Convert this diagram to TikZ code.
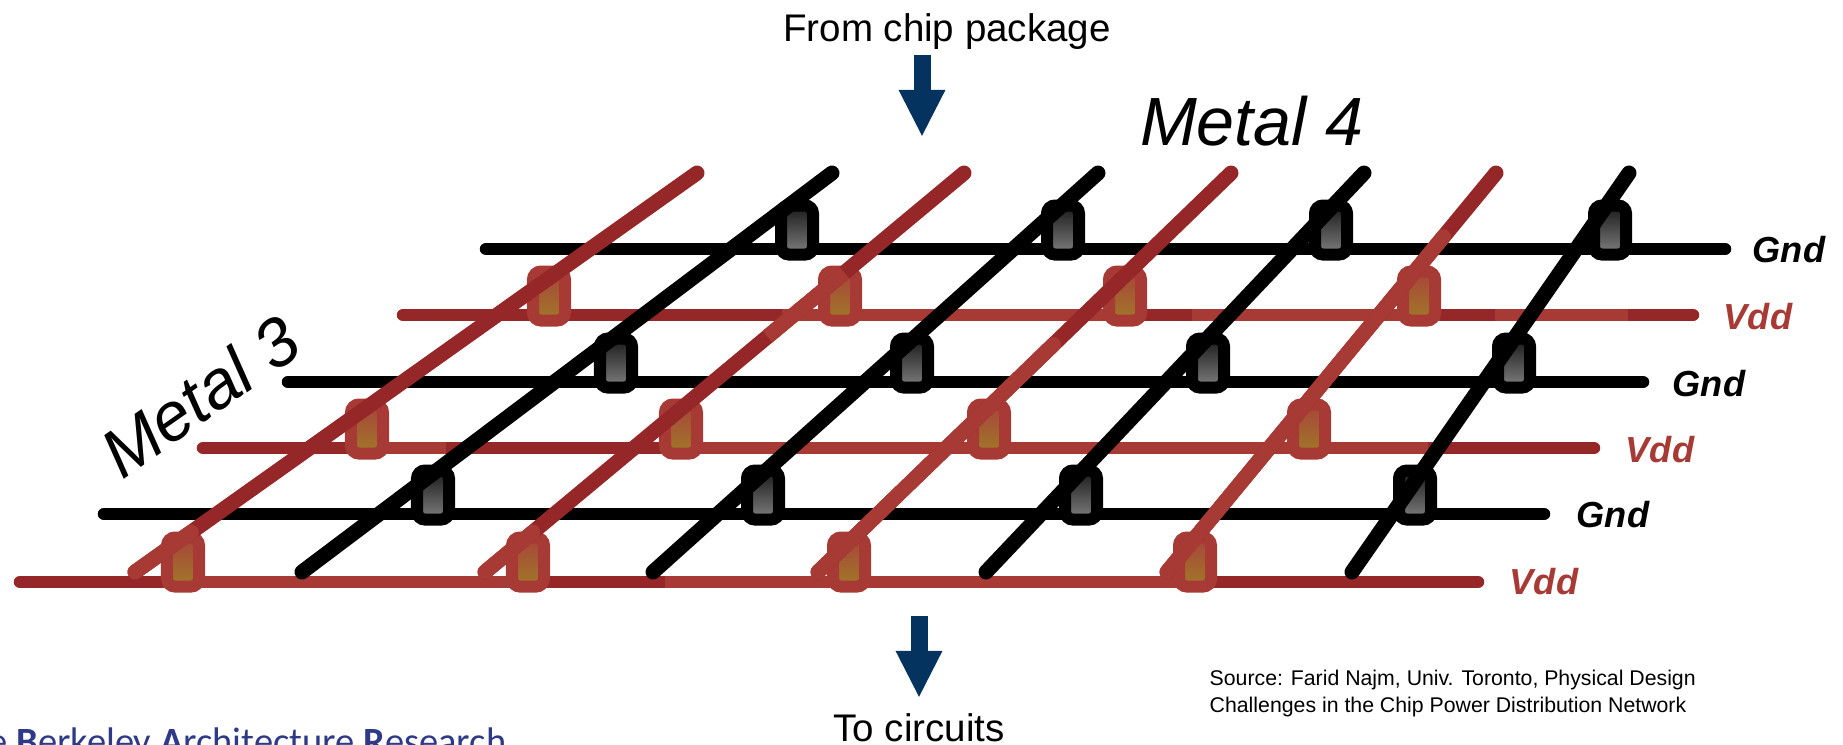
\documentclass[tikz,border=0pt]{standalone}
\usepackage{fontspec}
\usepackage{tikz}
\usetikzlibrary{calc,arrows.meta}
\setmainfont{Liberation Sans}
\newfontfamily\logofont{Carlito}
\definecolor{vdddark}{HTML}{962728}
\definecolor{vddlite}{HTML}{A83A35}
\definecolor{viatop}{HTML}{A8443A}
\definecolor{viabot}{HTML}{A07A28}
\definecolor{arrowblue}{HTML}{04335F}
\definecolor{logoblue}{HTML}{2E3A87}

\begin{document}
\begin{tikzpicture}[x=0.01cm,y=-0.01cm,
    wire/.style={line width=0.125cm,line cap=round},
    gndwire/.style={wire,color=black},
    vddwire/.style={wire,color=vdddark},
    vddpatch/.style={line width=0.125cm,color=vddlite},
    gnddiag/.style={line width=0.15cm,line cap=round,color=black},
    vdddiag/.style={line width=0.15cm,line cap=round,color=vdddark},
    vddpatchd/.style={line width=0.15cm,color=vddlite},
    via/.style={rectangle,inner sep=0pt,minimum width=0.32cm,minimum height=0.49cm,
        rounded corners=0.08cm,line width=0.12cm},
    gndvia/.style={via,draw=black,top color=black!90,bottom color=black!50},
    vddvia/.style={via,draw=vddlite,top color=viatop,bottom color=viabot},
    netgnd/.style={font=\fontsize{10.3}{12}\selectfont\bfseries\itshape,color=black},
    netvdd/.style={font=\fontsize{10.3}{12}\selectfont\bfseries\itshape,color=vddlite},
    metal/.style={font=\fontsize{19.4}{23}\selectfont\itshape},
    flow/.style={font=\fontsize{10.95}{13}\selectfont},
    flowarrow/.style={-{Triangle[length=0.47cm,width=0.43cm]},line width=0.17cm,color=arrowblue}]
    \useasboundingbox (0,0) rectangle (1843,744);

    % metal 3 straps
    \coordinate (g1w) at (486,249);  \coordinate (g1e) at (1725,249);
    \coordinate (v1w) at (403,315);  \coordinate (v1e) at (1693,315);
    \coordinate (g2w) at (288,382);  \coordinate (g2e) at (1643,382);
    \coordinate (v2w) at (203,448);  \coordinate (v2e) at (1594,448);
    \coordinate (g3w) at (104,514);  \coordinate (g3e) at (1544,514);
    \coordinate (v3w) at (20,582);   \coordinate (v3e) at (1478,582);

    \draw[gndwire] (g1w) -- (g1e);
    \draw[gndwire] (g2w) -- (g2e);
    \draw[gndwire] (g3w) -- (g3e);
    \draw[vddwire] (v1w) -- (v1e);
    \draw[vddwire] (v2w) -- (v2e);
    \draw[vddwire] (v3w) -- (v3e);

    % lighter stretches
    \foreach \xa/\xb in {782/1145,1192/1440,1495/1628}
    \draw[vddpatch] (\xa,315) -- (\xb,315);
    \foreach \xa/\xb in {387/446,664/1428}
    \draw[vddpatch] (\xa,448) -- (\xb,448);
    \foreach \xa/\xb in {163/528,665/1195}
    \draw[vddpatch] (\xa,582) -- (\xb,582);

    % vias
    \node[gndvia] (g1a) at (797,230) {};
    \node[gndvia] (g1b) at (1063,230) {};
    \node[gndvia] (g1c) at (1331,230) {};
    \node[gndvia] (g1d) at (1610,230) {};
    \node[vddvia] (v1a) at (549,296) {};
    \node[vddvia] (v1b) at (840,296) {};
    \node[vddvia] (v1c) at (1125,296) {};
    \node[vddvia] (v1d) at (1419,296) {};
    \node[gndvia] (g2a) at (616,363) {};
    \node[gndvia] (g2b) at (912,363) {};
    \node[gndvia] (g2c) at (1208,363) {};
    \node[gndvia] (g2d) at (1514,363) {};
    \node[vddvia] (v2a) at (367,429) {};
    \node[vddvia] (v2b) at (681,429) {};
    \node[vddvia] (v2c) at (989,429) {};
    \node[vddvia] (v2d) at (1309,429) {};
    \node[gndvia] (g3a) at (433,495) {};
    \node[gndvia] (g3b) at (763,495) {};
    \node[gndvia] (g3c) at (1081,495) {};
    \node[gndvia] (g3d) at (1415,495) {};
    \node[vddvia] (v3a) at (183,562) {};
    \node[vddvia] (v3b) at (528,562) {};
    \node[vddvia] (v3c) at (849,562) {};
    \node[vddvia] (v3d) at (1195,562) {};

    % metal 4 straps
    \coordinate (r1s) at (135,572);  \coordinate (r1n) at (697,173);
    \coordinate (b1s) at (302,572);  \coordinate (b1n) at (832,173);
    \coordinate (r2s) at (485,572);  \coordinate (r2n) at (964,173);
    \coordinate (b2s) at (653,572);  \coordinate (b2n) at (1098,173);
    \coordinate (r3s) at (818,572);  \coordinate (r3n) at (1231,173);
    \coordinate (b3s) at (986,572);  \coordinate (b3n) at (1364,173);
    \coordinate (r4s) at (1167,572); \coordinate (r4n) at (1496,173);
    \coordinate (b4s) at (1352,572); \coordinate (b4n) at (1629,173);

    \draw[vdddiag] (r1s) -- (r1n);
    \draw[vdddiag] (r2s) -- (r2n);
    \draw[vdddiag] (r3s) -- (r3n);
    \draw[vdddiag] (r4s) -- (r4n);
    \draw[gnddiag] (b1s) -- (b1n);
    \draw[gnddiag] (b2s) -- (b2n);
    \draw[gnddiag] (b3s) -- (b3n);
    \draw[gnddiag] (b4s) -- (b4n);

    \draw[vddpatchd,line cap=round] (r1s) -- ($(r1s)!0.1!(r1n)$);
    \draw[vddpatchd,line cap=round] (r2s) -- ($(r2s)!0.1!(r2n)$);
    \draw[vddpatchd] ($(r2s)!0.59!(r2n)$) -- ($(r2s)!0.75!(r2n)$);
    \draw[vddpatchd,line cap=round] (r3s) -- ($(r3s)!0.57!(r3n)$);
    \draw[vddpatchd,line cap=round] (r4s) -- ($(r4s)!0.84!(r4n)$);

    % labels
    \node[netgnd] (gndtop) at (1789,250) {Gnd};
    \node[netvdd] (vddtop) at (1758,317) {Vdd};
    \node[netgnd] (gndmid) at (1709,384) {Gnd};
    \node[netvdd] (vddmid) at (1660,450) {Vdd};
    \node[netgnd] (gndlow) at (1613,515) {Gnd};
    \node[netvdd] (vddlow) at (1544,582) {Vdd};
    \node[metal] (metalfour) at (1252,121) {Metal 4};
    \node[metal,rotate=35] (metalthree) at (200,396) {Metal 3};

    % current flow
    \node[flow] (package) at (947,32) {From chip package};
    \node[flow] (circuits) at (919,728) {To circuits};
    \coordinate (packtop) at (922,55);
    \coordinate (packtip) at (922,137);
    \coordinate (circtop) at (919,616);
    \coordinate (circtip) at (919,698);
    \draw[flowarrow] (packtop) -- (packtip);
    \draw[flowarrow] (circtop) -- (circtip);

    \node[anchor=base west,inner sep=0pt,font=\fontsize{6.05}{7.6}\selectfont,align=left] (source) at (1209,712)
        {Source: Farid Najm, Univ. Toronto, Physical Design\\Challenges in the Chip Power Distribution Network};

    \begin{scope}
    \clip (0,0) rectangle (1843,744);
    \node[anchor=base west,inner sep=0pt,color=logoblue,font=\fontsize{10.95}{13}\logofont] (logo) at (-12,754)
        {e \textbf{B}erkeley \textbf{A}rchitecture \textbf{R}esearch};
    \end{scope}
\end{tikzpicture}
\end{document}
